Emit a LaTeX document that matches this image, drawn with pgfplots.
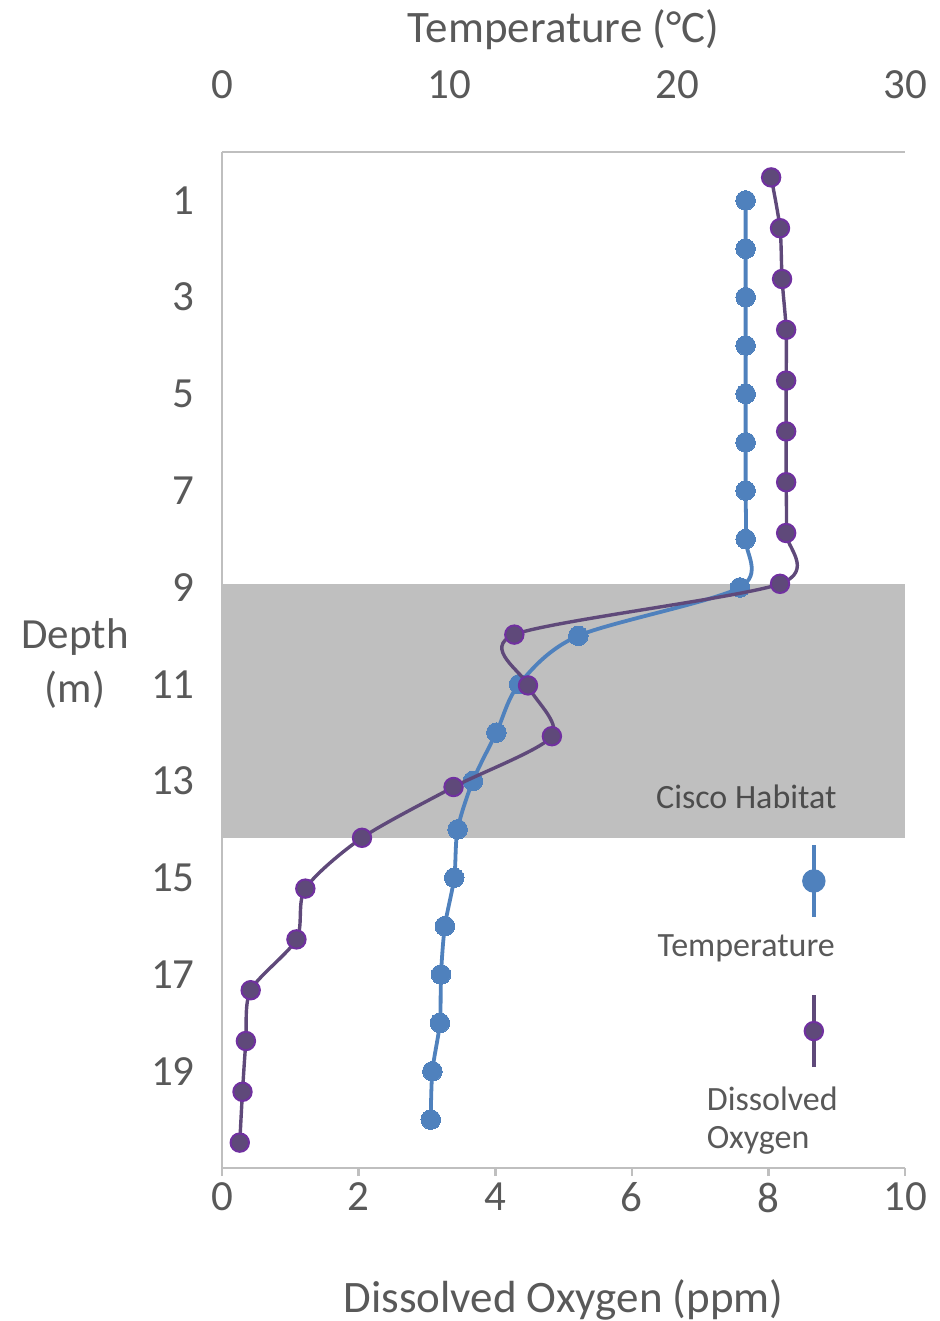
\documentclass[border=0pt]{standalone}
\usepackage{fontspec}
\setmainfont{Carlito}
\usepackage{pgfplots}
\usepackage{pgfplotstable}
\pgfplotsset{compat=1.18}

\definecolor{tempblue}{HTML}{4F81BD}
\definecolor{doline}{HTML}{5F497A}
\definecolor{doedge}{HTML}{7030A0}
\definecolor{bandgray}{HTML}{BFBFBF}
\definecolor{axgray}{HTML}{BFBFBF}
\definecolor{txtgray}{HTML}{595959}

% temperature profile, primary depth axis (0-21 m)
\pgfplotstableread{
depth temp
1  23.0
2  23.0
3  23.0
4  23.0
5  23.0
6  23.0
7  23.0
8  23.0
9  22.75
10 15.65
11 13.05
12 12.05
13 11.02
14 10.35
15 10.2
16 9.79
17 9.62
18 9.57
19 9.24
20 9.17
}\temptable

% dissolved oxygen, secondary depth axis (0.5-20.5)
\pgfplotstableread{
depth do
1  8.04
2  8.17
3  8.20
4  8.26
5  8.26
6  8.26
7  8.26
8  8.26
9  8.17
10 4.28
11 4.48
12 4.83
13 3.39
14 2.05
15 1.22
16 1.09
17 0.42
18 0.35
19 0.30
20 0.26
}\dotable

\newcommand\bigfont{\fontsize{21.5}{27}\selectfont}
\newcommand\titlefont{\fontsize{22.5}{27}\selectfont}
\newcommand\smallfont{\fontsize{17}{19}\selectfont}

\pgfplotsset{
  base/.style={
    width=341.5pt, height=508pt, scale only axis,
    at={(0pt,0pt)}, anchor=south west,
    y dir=reverse,
    /pgf/number format/assume math mode=true,
    tick label style={text=txtgray, font=\bigfont, inner sep=0pt},
    axis line style={-, draw=axgray, line width=1.3pt},
    every outer x axis line/.append style={-},
    every outer y axis line/.append style={-},
  },
}

\begin{document}
\begin{tikzpicture}
\useasboundingbox (-111pt,-76.5pt) rectangle (358.5pt,584pt);

% band and bottom (oxygen) axis
\begin{axis}[base,
  xmin=0, xmax=10, ymin=0.5, ymax=20.5,
  axis x line*=bottom, axis y line=none,
  xtick={0,2,...,10}, xtick align=outside,
  major tick length=4pt,
  tick style={draw=axgray, line width=1.3pt},
  xticklabel shift=3.2pt,
  xlabel={Dissolved Oxygen (ppm)},
  every axis x label/.style={at={(axis description cs:0.5,-0.13)}, anchor=center,
    text=txtgray, font=\titlefont},
]
\addplot[fill=bandgray, draw=none] coordinates {(0,9) (10,9) (10,14) (0,14)} -- cycle;
\node[anchor=base east, text=txtgray!85!black, font=\smallfont, inner sep=0pt]
  at (axis description cs:0.9004,0.354) {Cisco Habitat};
\end{axis}

% temperature, top axis and depth axis
\begin{axis}[base,
  xmin=0, xmax=30, ymin=0, ymax=21,
  axis x line*=top, axis y line*=left,
  xtick={0,10,20,30}, ytick={1,3,...,19},
  tick style={draw=none}, major tick length=0pt,
  xticklabel shift=26.2pt, yticklabel shift=13.5pt,
  xlabel={Temperature (°C)}, ylabel={Depth\\(m)},
  every axis x label/.style={at={(axis description cs:0.5,1.12)}, anchor=center,
    text=txtgray, font=\titlefont},
  every axis y label/.style={at={(axis description cs:-0.215,0.497)}, anchor=center,
    align=center, text=txtgray, font=\bigfont},
  clip=false,
  legend style={at={(0.868,0.2825)}, anchor=center, draw=none, fill=none,
    inner sep=0pt, outer sep=0pt, nodes={inner sep=0pt}, column sep=0pt},
]
\addplot[tempblue, line width=1.9pt, smooth, tension=0.5,
  mark=*, mark size=4.9pt, mark options={fill=tempblue, draw=tempblue, line width=0pt},
  legend image code/.code={
    \draw[tempblue, line width=1.9pt] (0pt,-18pt) -- (0pt,18pt);
    \fill[tempblue] (0pt,0pt) circle (4.9pt);
    \node[overlay, anchor=base east, text=txtgray, font=\smallfont, inner sep=0pt]
      at (10.5pt,-38pt) {Temperature};
  }]
  table[x=temp, y=depth] {\temptable};
\addlegendentry{}
\end{axis}

% dissolved oxygen, drawn last
\begin{axis}[base,
  xmin=0, xmax=10, ymin=0.5, ymax=20.5,
  hide axis, clip=false,
  legend style={at={(0.868,0.1348)}, anchor=center, draw=none, fill=none,
    inner sep=0pt, outer sep=0pt, nodes={inner sep=0pt}, column sep=0pt},
]
\addplot[doline, line width=1.7pt, smooth, tension=0.47,
  mark=*, mark size=4.6pt, mark options={fill=doline, draw=doedge, line width=1pt},
  legend image code/.code={
    \draw[doline, line width=1.7pt] (0pt,-18pt) -- (0pt,18pt);
    \filldraw[fill=doline, draw=doedge, line width=1pt] (0pt,0pt) circle (4.6pt);
    \node[overlay, anchor=base west, text=txtgray, font=\smallfont, inner sep=0pt]
      at (-53.5pt,-39.5pt) {Dissolved};
    \node[overlay, anchor=base west, text=txtgray, font=\smallfont, inner sep=0pt]
      at (-53.5pt,-58.5pt) {Oxygen};
  }]
  table[x=do, y=depth] {\dotable};
\addlegendentry{}
\end{axis}
\end{tikzpicture}
\end{document}
